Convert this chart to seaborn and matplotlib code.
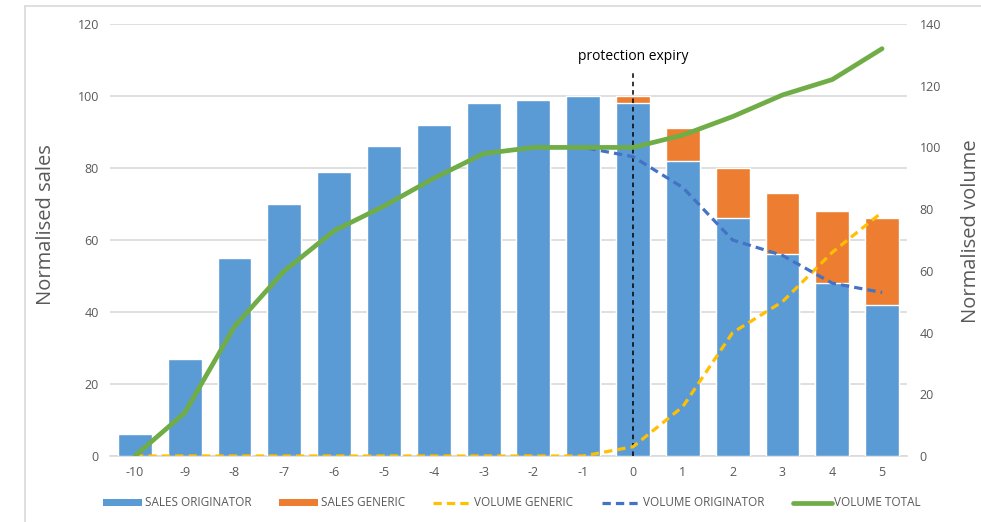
import numpy as np
import pandas as pd
import matplotlib
matplotlib.use("Agg")
import matplotlib.pyplot as plt
import seaborn as sns
from matplotlib.lines import Line2D
from matplotlib.patches import Patch

# Years relative to patent protection expiry
periods = [-10, -9, -8, -7, -6, -5, -4, -3, -2, -1, 0, 1, 2, 3, 4, 5]
period_labels = [str(p) for p in periods]

# Normalised sales (left axis)
sales_originator = [6, 27, 55, 70, 79, 86, 92, 98, 99, 100, 98, 82, 66, 56, 48, 42]
sales_generic = [0, 0, 0, 0, 0, 0, 0, 0, 0, 0, 2, 9, 14, 17, 20, 24]

# Normalised volume (right axis)
volume_generic = [0, 0, 0, 0, 0, 0, 0, 0, 0, 0, 3, 16, 40, 50, 66, 79]
volume_originator = [0, 14, 42, 60, 73, 81, 90, 98, 100, 100, 97, 87, 70, 65, 56, 53]
volume_total = [0, 14, 42, 60, 73, 81, 90, 98, 100, 100, 100, 104, 110, 117, 122, 132]

expiry_period = 0
expiry_line_top = 107

C_BLUE = "#5B9BD5"
C_ORANGE = "#ED7D31"
C_YELLOW = "#FFC000"
C_DBLUE = "#4472C4"
C_GREEN = "#70AD47"
C_GRID = "#D9D9D9"
C_TEXT = "#595959"

sns.set_style("white")
plt.rcParams["font.family"] = ["Open Sans", "DejaVu Sans"]

df = pd.DataFrame({
    "period": period_labels,
    "pos": np.arange(len(periods)),
    "orig": sales_originator,
    "gen": sales_generic,
    "vol_gen": volume_generic,
    "vol_orig": volume_originator,
    "vol_tot": volume_total,
})
df["sales_total"] = df["orig"] + df["gen"]

W, H = 981, 522
AX_L, AX_R, AX_T, AX_B = 110, 907, 24, 456
fig = plt.figure(figsize=(W / 100, H / 100), dpi=100)
ax = fig.add_axes([AX_L / W, (H - AX_B) / H, (AX_R - AX_L) / W, (AX_B - AX_T) / H])

# Stacked bars: total (generic on top) then originator overlaid
sns.barplot(data=df, x="period", y="sales_total", order=period_labels, color=C_ORANGE,
            width=0.68, saturation=1, ax=ax, zorder=2)
sns.barplot(data=df, x="period", y="orig", order=period_labels, color=C_BLUE,
            width=0.68, saturation=1, ax=ax, zorder=3)

ax.set_ylim(0, 120)
ax.set_xlim(-0.5, len(periods) - 0.5)
ax.set_yticks(np.arange(0, 121, 20))
ax.yaxis.grid(True, color=C_GRID, linewidth=1.2, zorder=0)
ax.set_axisbelow(True)
for s in ["top", "right", "left"]:
    ax.spines[s].set_visible(False)
ax.spines["bottom"].set_color(C_GRID)
ax.spines["bottom"].set_linewidth(1.2)
ax.tick_params(axis="both", length=0, labelsize=9, labelcolor=C_TEXT)
ax.tick_params(axis="y", pad=8)
ax.tick_params(axis="x", pad=7)
ax.set_xlabel("")
ax.set_ylabel("Normalised sales", fontsize=14.5, color=C_TEXT)
ax.yaxis.set_label_coords((56 - AX_L) / (AX_R - AX_L), (AX_B - 225) / (AX_B - AX_T))

# Expiry marker
xpos = period_labels.index(str(expiry_period))
ax.vlines(xpos, 0, expiry_line_top, colors="black", linestyles=(0, (3, 2.5)),
          linewidth=1.1, zorder=6)
ax.text(xpos, 111, "protection expiry", ha="center", va="center",
        fontsize=10, color="black")

# Volume lines on the secondary axis
ax2 = ax.twinx()
lw_d = 2.3
sns.lineplot(data=df, x="pos", y="vol_gen", color=C_YELLOW, linewidth=lw_d,
             ax=ax2, zorder=4)
sns.lineplot(data=df, x="pos", y="vol_orig", color=C_DBLUE, linewidth=lw_d,
             ax=ax2, zorder=4)
sns.lineplot(data=df, x="pos", y="vol_tot", color=C_GREEN, linewidth=3.4,
             ax=ax2, zorder=5)
for ln in ax2.lines[:2]:
    ln.set_dashes((2.6, 1.6))
    ln.set_solid_capstyle("butt")
ax2.set_ylim(0, 140)
ax2.set_xlim(-0.5, len(periods) - 0.5)
ax2.set_yticks(np.arange(0, 141, 20))
for s in ax2.spines.values():
    s.set_visible(False)
ax2.tick_params(axis="y", length=0, labelsize=9, labelcolor=C_TEXT, pad=9)
ax2.set_ylabel("Normalised volume", fontsize=14.5, color=C_TEXT, rotation=90)
ax2.yaxis.set_label_coords((961 - AX_L) / (AX_R - AX_L), (AX_B - 231) / (AX_B - AX_T))
ax2.set_xlabel("")

# Legend along the bottom
handles = [
    Patch(facecolor=C_BLUE, edgecolor="none"),
    Patch(facecolor=C_ORANGE, edgecolor="none"),
    Line2D([], [], color=C_YELLOW, linewidth=lw_d, dashes=(2.6, 1.6)),
    Line2D([], [], color=C_DBLUE, linewidth=lw_d, dashes=(2.6, 1.6)),
    Line2D([], [], color=C_GREEN, linewidth=3.4),
]
labels = ["SALES ORIGINATOR", "SALES GENERIC", "VOLUME GENERIC",
          "VOLUME ORIGINATOR", "VOLUME TOTAL"]
fig.legend(handles, labels, loc="center", bbox_to_anchor=(512 / W, 1 - 503 / H),
           ncol=5, frameon=False, fontsize=8.5, labelcolor=C_TEXT,
           handlelength=3.3, handleheight=0.5, handletextpad=0.2,
           columnspacing=2.4)

# Outer chart border
fig.add_artist(Line2D([25 / W, 25 / W], [0, 1 - 6 / H], color=C_GRID, linewidth=1.2))
fig.add_artist(Line2D([25 / W, 1], [1 - 6 / H, 1 - 6 / H], color=C_GRID, linewidth=1.2))

fig.savefig("out.png", dpi=100, facecolor="white")
